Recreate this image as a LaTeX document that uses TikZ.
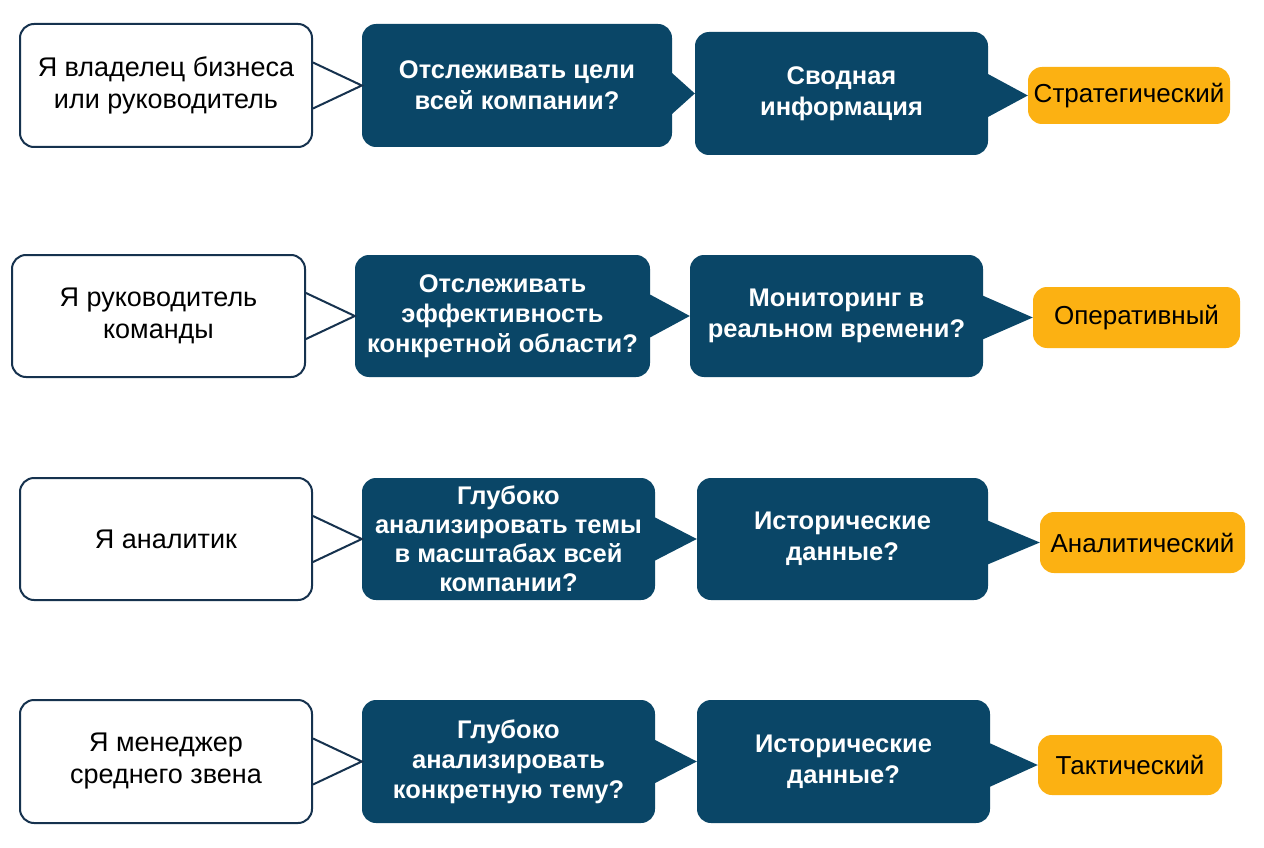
\documentclass[tikz,border=0pt]{standalone}
\usepackage{fontspec}
\setmainfont{Liberation Sans}
\usetikzlibrary{calc}
\definecolor{dblue}{RGB}{10,70,103}
\definecolor{navy}{RGB}{22,50,78}
\definecolor{orng}{RGB}{252,177,18}
\begin{document}
\begin{tikzpicture}[x=1pt,y=-1pt,
  wbox/.style={draw=navy, line width=2pt, fill=white, rounded corners=14pt, align=center, inner sep=0pt,
    font=\fontsize{27}{32}\selectfont, text=black},
  dbox/.style={fill=dblue, rounded corners=14pt, align=center, inner sep=0pt, text=white,
    font=\bfseries\fontsize{25.5}{31}\selectfont},
  obox/.style={fill=orng, rounded corners=14pt, align=center, inner sep=0pt, text=black,
    font=\fontsize{26}{30}\selectfont},
  wptr/.style={draw=navy, line width=2pt, line join=miter},
  dptr/.style={fill=dblue}
]
\useasboundingbox (0,0) rectangle (1264,848);
\fill[white] (0,0) rectangle (1264,848);

% Row 1
\node[wbox, minimum width=292pt, minimum height=123pt] (W1) at (166,85.5) {Я владелец бизнеса\\или руководитель};
\node[dbox, minimum width=310pt, minimum height=123pt] (D1) at (517,85.5) {Отслеживать цели\\всей компании?};
\node[dbox, minimum width=293pt, minimum height=123pt] (D2) at (841.5,93.5) {Сводная\\информация};
\node[obox, minimum width=202pt, minimum height=57pt] (O1) at (1129,95.5) {Стратегический};

% Row 2
\node[wbox, minimum width=293pt, minimum height=122pt] (W2) at (158.5,316) {Я руководитель\\команды};
\node[dbox, minimum width=295pt, minimum height=122pt, font=\bfseries\fontsize{25.5}{30}\selectfont] (D3) at (502.5,316) {Отслеживать\\эффективность\\конкретной области?};
\node[dbox, minimum width=293pt, minimum height=122pt] (D4) at (836.5,316) {Мониторинг в\\реальном времени?};
\node[obox, minimum width=207pt, minimum height=61pt] (O2) at (1136.5,317.5) {Оперативный};

% Row 3
\node[wbox, minimum width=292pt, minimum height=122pt] (W3) at (166,539) {Я аналитик};
\node[dbox, minimum width=293pt, minimum height=122pt, font=\bfseries\fontsize{25.5}{29}\selectfont] (D5) at (508.5,539) {Глубоко\\анализировать темы\\в масштабах всей\\компании?};
\node[dbox, minimum width=291pt, minimum height=122pt] (D6) at (842.5,539) {Исторические\\данные?};
\node[obox, minimum width=205pt, minimum height=61pt] (O3) at (1142.5,542.5) {Аналитический};

% Row 4
\node[wbox, minimum width=292pt, minimum height=123pt] (W4) at (166,761.5) {Я менеджер\\среднего звена};
\node[dbox, minimum width=293pt, minimum height=123pt, font=\bfseries\fontsize{25.5}{30}\selectfont] (D7) at (508.5,761.5) {Глубоко\\анализировать\\конкретную тему?};
\node[dbox, minimum width=293pt, minimum height=123pt] (D8) at (843.5,761.5) {Исторические\\данные?};
\node[obox, minimum width=184pt, minimum height=60pt] (O4) at (1130,765) {Тактический};

% Pointers
\foreach \a/\b in {W1/D1,W2/D3,W3/D5,W4/D7}{
  \draw[wptr] ($(\a.east|-\b.west)+(0,-23)$) -- (\b.west) -- ($(\a.east|-\b.west)+(0,23)$);
}
\foreach \a/\b in {D1/D2,D2/O1,D3/D4,D4/O2,D5/D6,D6/O3,D7/D8,D8/O4}{
  \fill[dptr] ($(\a.east|-\b.west)+(-3,-23)$) -- (\b.west) -- ($(\a.east|-\b.west)+(-3,23)$) -- cycle;
}
\end{tikzpicture}
\end{document}
